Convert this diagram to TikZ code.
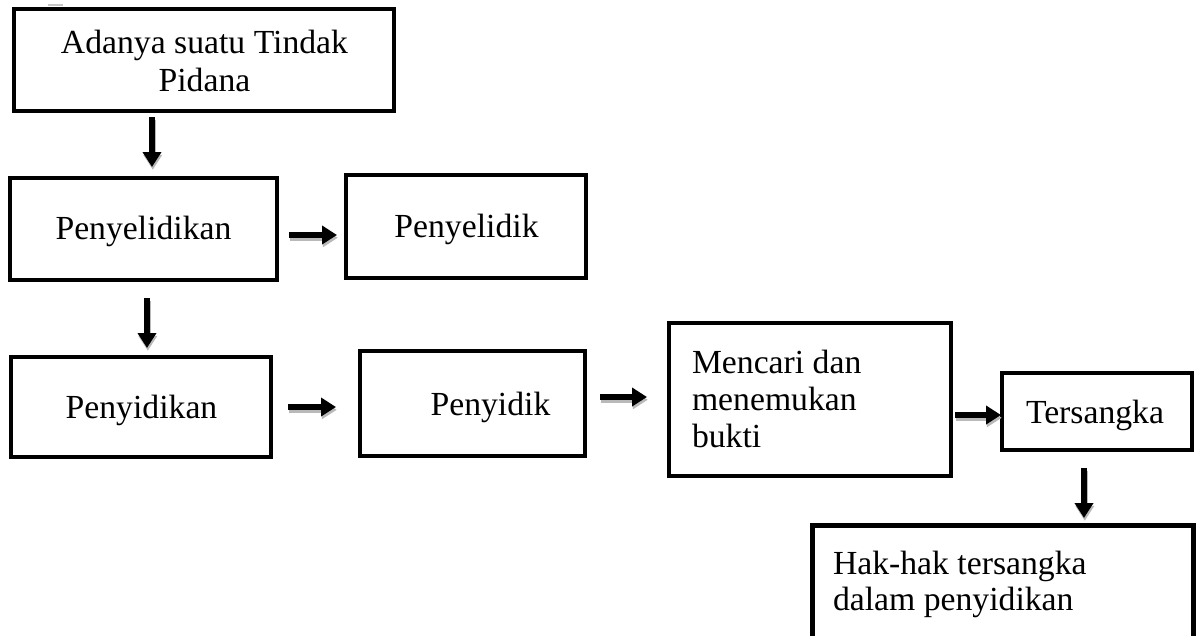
\documentclass[tikz,border=0pt]{standalone}
\usepackage{fontspec}
\setmainfont{Liberation Serif}
\usetikzlibrary{arrows.meta}
\tikzset{
  box/.style={draw=black, line width=4.5pt, rectangle, inner sep=0pt, outer sep=0pt},
  txt/.style={inner sep=0pt, outer sep=0pt, font=\fontsize{33.7}{38}\selectfont},
  txtl/.style={inner sep=0pt, outer sep=0pt, font=\fontsize{33.7}{37}\selectfont},
  arrtip/.style={-{Triangle[length=15pt,width=18pt]}, line width=5.5pt},
  arrshadow/.style={arrtip, draw=gray!55},
  arrmain/.style={arrtip, draw=black}
}
\newcommand{\shadowarrow}[2]{%
  \draw[arrshadow, transform canvas={shift={(0.8pt,-2.8pt)}}] (#1) -- (#2);
  \draw[arrmain] (#1) -- (#2);}
\begin{document}
\begin{tikzpicture}[x=1pt,y=-1pt]
\useasboundingbox (0,0) rectangle (1199,635);
\clip (0,0) rectangle (1199,635);
\fill[white] (0,0) rectangle (1199,635);

% boxes
\node[box, minimum width=380pt, minimum height=102pt] (b1) at (204,60) {};
\node[box, minimum width=267pt, minimum height=102pt] (b2) at (143.5,229) {};
\node[box, minimum width=240pt, minimum height=103pt] (b3) at (466,226.5) {};
\node[box, minimum width=260pt, minimum height=100pt] (b4) at (141,407) {};
\node[box, minimum width=225pt, minimum height=105pt] (b5) at (472.5,403.5) {};
\node[box, minimum width=282pt, minimum height=153pt] (b6) at (810,399.5) {};
\node[box, minimum width=190pt, minimum height=77pt] (b7) at (1097,411.5) {};
\node[box, line width=5pt, minimum width=381pt, minimum height=115pt] (b8) at (1002.5,582.5) {};

% small grey mark above the first box
\draw[gray!45, line width=2pt] (48,5) -- (63,5);

% texts
\node[txt, anchor=base] (t1) at (204.5,53) {\begin{tabular}[t]{@{}c@{}}Adanya suatu Tindak\\Pidana\end{tabular}};
\node[txt, anchor=base] (t2) at (143.5,239) {Penyelidikan};
\node[txt, anchor=base] (t3) at (466.5,237) {Penyelidik};
\node[txt, anchor=base] (t4) at (141.5,418) {Penyidikan};
\node[txt, anchor=base] (t5) at (490.5,415) {Penyidik};
\node[txtl, anchor=base west] (t6) at (692,373) {\begin{tabular}[t]{@{}l@{}}Mencari dan\\menemukan\\bukti\end{tabular}};
\node[txt, anchor=base] (t7) at (1095,423) {Tersangka};
\node[txt, anchor=base west, font=\fontsize{33.7}{36}\selectfont] (t8) at (833,574) {\begin{tabular}[t]{@{}l@{}}Hak-hak tersangka\\dalam penyidikan\end{tabular}};

% arrow end points
\coordinate (a1s) at (152,117);  \coordinate (a1e) at (152,167);
\coordinate (a2s) at (289,235);  \coordinate (a2e) at (337,235);
\coordinate (a3s) at (147,298);  \coordinate (a3e) at (147,348);
\coordinate (a4s) at (288,407);  \coordinate (a4e) at (336,407);
\coordinate (a5s) at (600,397);  \coordinate (a5e) at (647,397);
\coordinate (a6s) at (955,415);  \coordinate (a6e) at (1001,415);
\coordinate (a7s) at (1084,468); \coordinate (a7e) at (1084,518);

\shadowarrow{a1s}{a1e}
\shadowarrow{a2s}{a2e}
\shadowarrow{a3s}{a3e}
\shadowarrow{a4s}{a4e}
\shadowarrow{a5s}{a5e}
\shadowarrow{a6s}{a6e}
\shadowarrow{a7s}{a7e}
\end{tikzpicture}
\end{document}
